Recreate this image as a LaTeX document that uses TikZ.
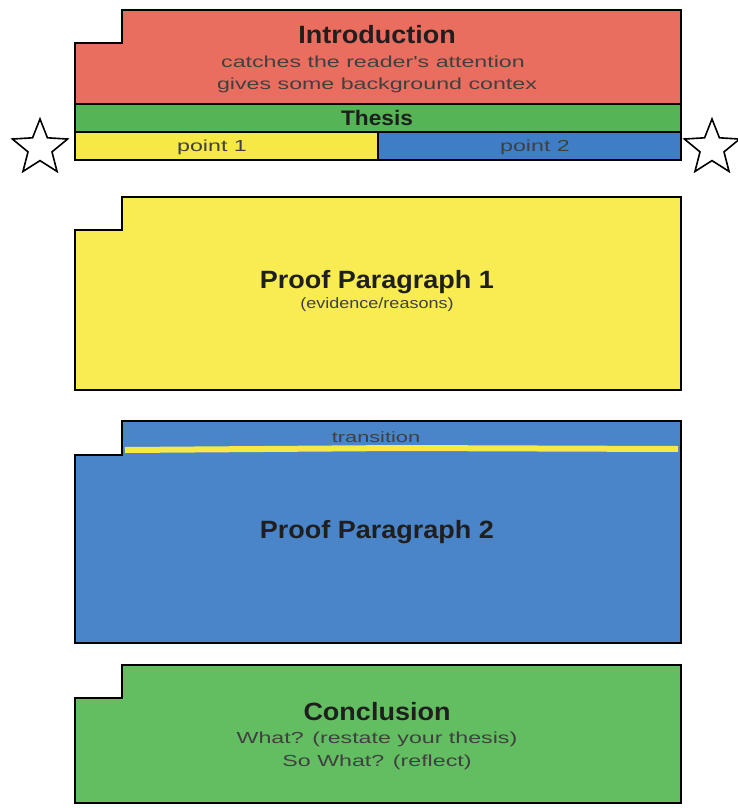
\documentclass[tikz,border=0pt]{standalone}
\usepackage{fontspec}
\setmainfont{Liberation Sans}
\newfontfamily\headfont[FakeStretch=1.08]{Liberation Sans}
\newfontfamily\widefont[FakeStretch=1.45]{Liberation Sans}
\newfontfamily\notefont[FakeStretch=1.2]{Liberation Sans}
\usepackage{xcolor}
\usetikzlibrary{shapes.geometric}
\definecolor{introred}{HTML}{EA6E5F}
\definecolor{thesisgreen}{HTML}{55B456}
\definecolor{pointyellow}{HTML}{F6E845}
\definecolor{pointblue}{HTML}{3F7EC6}
\definecolor{proofyellow}{HTML}{F8EC52}
\definecolor{proofblue}{HTML}{4A85C9}
\definecolor{concgreen}{HTML}{63BE62}

\begin{document}
\begin{tikzpicture}[x=1pt,y=-1pt,
    outline/.style={line width=2pt, line join=miter},
    title/.style={font=\headfont\bfseries\fontsize{25}{27}\selectfont, text=black!88},
    sub/.style={font=\widefont\fontsize{16}{18}\selectfont, text=black!75},
    markstar/.style={star, star points=5, star point ratio=2.3, draw, line width=1.6pt, minimum size=58pt, inner sep=0pt}]
    \useasboundingbox (0,0) rectangle (738,808) ;
    % introduction, thesis and points
    \fill[introred] (122,10) -- (681,10) -- (681,104) -- (75,104) -- (75,43) -- (122,43) -- cycle ;
    \fill[thesisgreen] (75,104) rectangle (681,132) ;
    \fill[pointyellow] (75,132) rectangle (378,160) ;
    \fill[pointblue] (378,132) rectangle (681,160) ;
    \draw[outline] (122,10) -- (681,10) -- (681,160) -- (75,160) -- (75,43) -- (122,43) -- cycle ;
    \draw[outline] (75,104) -- (681,104) ;
    \draw[outline] (75,132) -- (681,132) ;
    \draw[outline] (378,132) -- (378,160) ;
    \node[title] at (377,35) (intro) {Introduction} ;
    \node[sub] at (373,62) (intro1) {catches the reader's attention} ;
    \node[sub] at (377,85) (intro2) {gives some background contex} ;
    \node[title, font=\headfont\bfseries\fontsize{21}{23}\selectfont] at (377,118) (thesis) {Thesis} ;
    \node[sub] at (212,147) (pt1) {point 1} ;
    \node[sub] at (535,147) (pt2) {point 2} ;
    \node[markstar] at (40,148) (starL) {} ;
    \node[markstar] at (712,148) (starR) {} ;
    % proof paragraph 1
    \draw[outline, fill=proofyellow] (122,197) -- (681,197) -- (681,390) -- (75,390) -- (75,230) -- (122,230) -- cycle ;
    \node[title] at (377,282) (proof1) {Proof Paragraph 1} ;
    \node[sub, font=\notefont\fontsize{15}{17}\selectfont] at (377,305) (proof1a) {(evidence/reasons)} ;
    % proof paragraph 2
    \draw[outline, fill=proofblue] (122,421) -- (681,421) -- (681,643) -- (75,643) -- (75,455) -- (122,455) -- cycle ;
    \draw[line width=6pt, pointyellow] (125,450) -- (400,448) -- (678,449) ;
    \node[sub, font=\widefont\fontsize{15}{17}\selectfont] at (376,437) (trans) {transition} ;
    \node[title] at (377,532) (proof2) {Proof Paragraph 2} ;
    % conclusion
    \draw[outline, fill=concgreen] (122,665) -- (681,665) -- (681,803) -- (75,803) -- (75,698) -- (122,698) -- cycle ;
    \node[title] at (377,712) (concl) {Conclusion} ;
    \node[sub] at (377,739) (concl1) {What? (restate your thesis)} ;
    \node[sub] at (377,762) (concl2) {So What? (reflect)} ;
\end{tikzpicture}
\end{document}
